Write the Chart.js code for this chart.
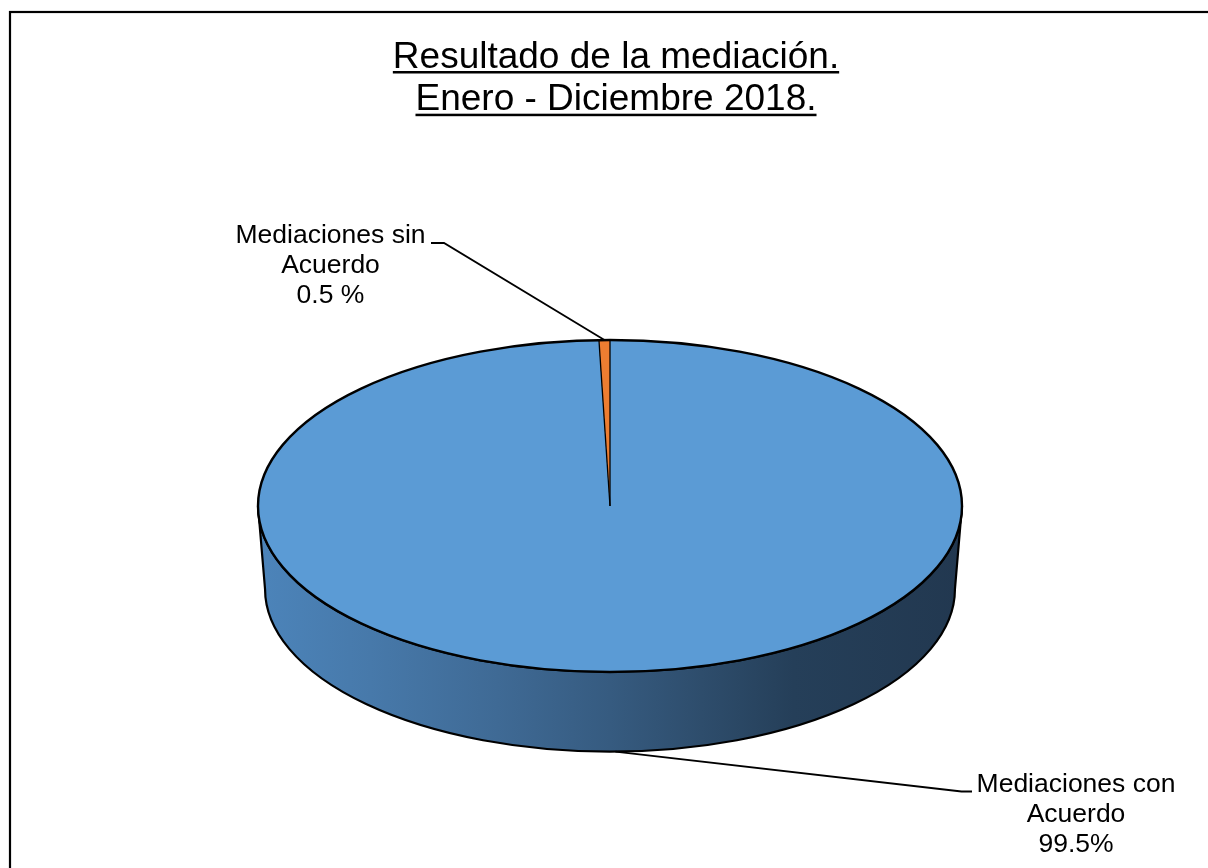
<!DOCTYPE html>
<html><head><meta charset="utf-8">
<script src="https://cdn.jsdelivr.net/npm/chart.js@4.4.1/dist/chart.umd.min.js"></script>
<style>html,body{margin:0;padding:0;background:#fff;overflow:hidden}#wrap{width:1208px;height:868px;position:relative}</style>
</head><body><div id="wrap"><canvas id="c" width="1208" height="868"></canvas></div>
<script>
const titleLines = ['Resultado de la mediación.', 'Enero - Diciembre 2018.'];
const categories = ['Mediaciones con Acuerdo', 'Mediaciones sin Acuerdo'];
const categoryLines = [['Mediaciones con', 'Acuerdo'], ['Mediaciones sin', 'Acuerdo']];
const values = [99.5, 0.5];
const valueLabels = ['99.5%', '0.5 %'];
const colors = ['#5b9bd5', '#ed7d31'];

const FONT = '"Liberation Sans", Arial, sans-serif';

function geom(chart, o) {
  const arc = chart.getDatasetMeta(0).data[0];
  const cx = arc.x, cy = arc.y, r = arc.outerRadius;
  const rxT = r * o.stretch, ryT = r;
  const depth = r * o.depth;
  const rxB = rxT * o.bottomScale, ryB = ryT * o.bottomScale;
  return {cx, cy, r, rxT, ryT, depth, rxB, ryB};
}

const pie3d = {
  id: 'pie3d',
  beforeDraw(chart, args, o) {
    const ctx = chart.ctx;
    ctx.save();
    ctx.fillStyle = '#fff';
    ctx.fillRect(0, 0, chart.width, chart.height);
    ctx.strokeStyle = '#000';
    ctx.lineWidth = 2.2;
    ctx.strokeRect(o.frame[0], o.frame[1], 2000, 2000);
    ctx.fillStyle = '#000';
    ctx.font = o.titleSize + 'px ' + FONT;
    ctx.textAlign = 'center';
    ctx.textBaseline = 'alphabetic';
    titleLines.forEach((t, i) => {
      const y = o.titleY + i * o.titleGap;
      ctx.fillText(t, o.titleX, y);
      const w = ctx.measureText(t).width;
      ctx.fillRect(o.titleX - w / 2, y + 3.5, w, 2.5);
    });
    ctx.restore();
  },
  beforeDatasetsDraw(chart, args, o) {
    const ctx = chart.ctx;
    const g = geom(chart, o);
    ctx.save();
    const grad = ctx.createLinearGradient(g.cx - g.rxT, 0, g.cx + g.rxT, 0);
    o.sideStops.forEach(s => grad.addColorStop(s[0], s[1]));
    ctx.beginPath();
    ctx.moveTo(g.cx - g.rxT, g.cy);
    ctx.lineTo(g.cx - g.rxB, g.cy + g.depth);
    ctx.ellipse(g.cx, g.cy + g.depth, g.rxB, g.ryB, 0, Math.PI, 0, true);
    ctx.lineTo(g.cx + g.rxT, g.cy);
    ctx.ellipse(g.cx, g.cy, g.rxT, g.ryT, 0, 0, Math.PI, false);
    ctx.closePath();
    ctx.fillStyle = grad;
    ctx.fill();
    ctx.strokeStyle = '#000';
    ctx.lineWidth = 2.2;
    ctx.stroke();
    ctx.restore();
    ctx.save();
    ctx.translate(g.cx, g.cy);
    ctx.scale(o.stretch, 1);
    ctx.translate(-g.cx, -g.cy);
  },
  afterDatasetsDraw(chart, args, o) {
    const ctx = chart.ctx;
    ctx.restore();
    const g = geom(chart, o);
    const arcs = chart.getDatasetMeta(0).data;
    ctx.save();
    ctx.strokeStyle = '#000';
    ctx.lineWidth = 2.4;
    ctx.beginPath();
    ctx.ellipse(g.cx, g.cy, g.rxT, g.ryT, 0, 0, Math.PI * 2);
    ctx.stroke();
    ctx.lineWidth = 1.3;
    arcs.forEach(a => {
      ctx.beginPath();
      ctx.moveTo(g.cx, g.cy);
      ctx.lineTo(g.cx + g.rxT * Math.cos(a.startAngle), g.cy + g.ryT * Math.sin(a.startAngle));
      ctx.stroke();
    });
    ctx.font = o.labelSize + 'px ' + FONT;
    ctx.fillStyle = '#000';
    ctx.textAlign = 'center';
    ctx.textBaseline = 'alphabetic';
    arcs.forEach((a, i) => {
      const m = (a.startAngle + a.endAngle) / 2;
      let ax, ay;
      if (Math.sin(m) > 0) {
        ax = g.cx + g.rxB * Math.cos(m); ay = g.cy + g.depth + g.ryB * Math.sin(m);
      } else {
        ax = g.cx + g.rxT * Math.cos(m); ay = g.cy + g.ryT * Math.sin(m);
      }
      const p = o.placement[i];
      ctx.lineWidth = 1.8;
      ctx.beginPath();
      ctx.moveTo(ax, ay);
      ctx.lineTo(p.elbow[0], p.elbow[1]);
      ctx.lineTo(p.end[0], p.end[1]);
      ctx.stroke();
      const lines = categoryLines[i].concat([valueLabels[i]]);
      lines.forEach((t, k) => ctx.fillText(t, p.text[0], p.text[1] + k * o.labelGap));
    });
    ctx.restore();
  }
};

new Chart(document.getElementById('c'), {
  type: 'pie',
  data: {
    labels: categories,
    datasets: [{
      data: values,
      backgroundColor: colors,
      borderWidth: 0,
      clip: false
    }]
  },
  options: {
    responsive: false,
    animation: false,
    events: [],
    layout: {padding: {left: 12, right: 0, top: 340, bottom: 196}},
    plugins: {
      legend: {display: false},
      tooltip: {enabled: false},
      title: {display: false},
      pie3d: {
        stretch: 352 / 166,
        depth: 0.5,
        bottomScale: 0.98,
        frame: [10, 12],
        titleSize: 37, titleX: 616, titleY: 67.5, titleGap: 42.7,
        labelSize: 26.5, labelGap: 30,
        sideStops: [[0, '#4c84ba'], [0.16, '#4779aa'], [0.34, '#3f6a95'], [0.5, '#365b80'], [0.63, '#2e4d6c'], [0.76, '#253f59'], [1, '#223850']],
        placement: [
          {elbow: [961.5, 791.5], end: [972, 791.5], text: [1076, 792]},
          {elbow: [444, 243], end: [431, 243], text: [330.5, 243]}
        ]
      }
    }
  },
  plugins: [pie3d]
});
</script></body></html>
